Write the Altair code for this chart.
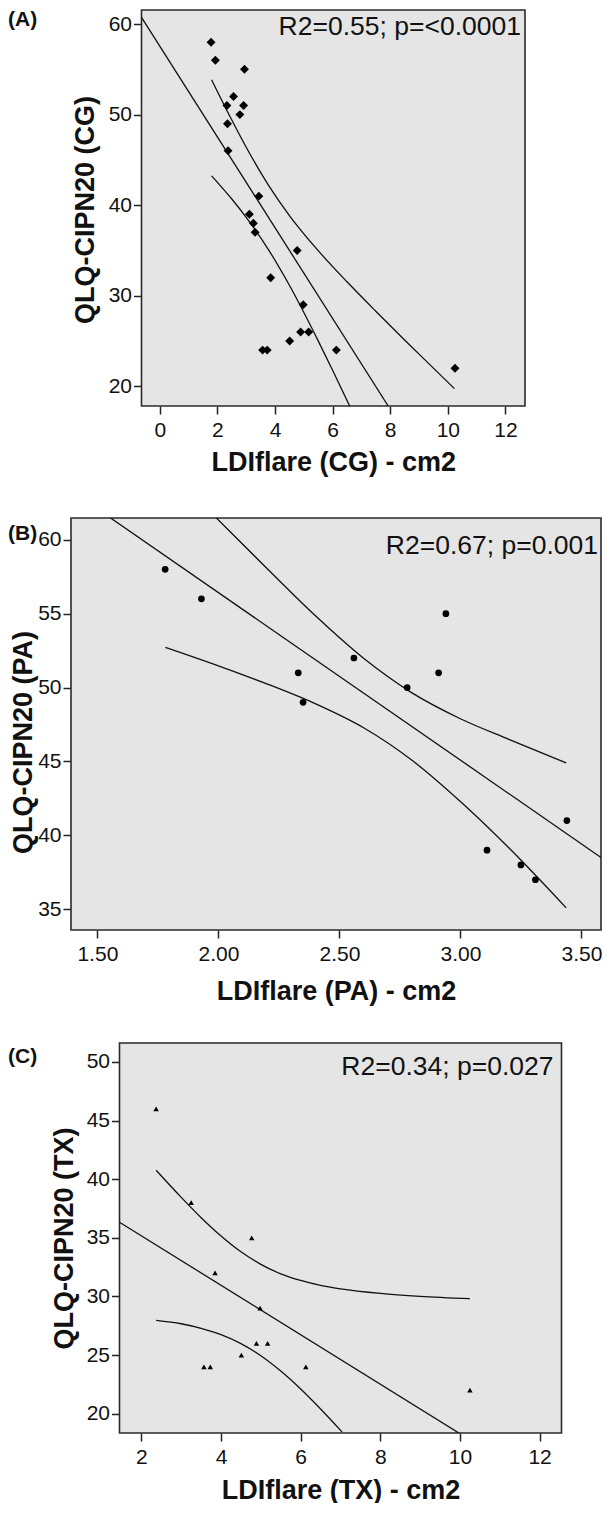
import altair as alt
import pandas as pd

FONT = "Liberation Sans"

# ---------------- data ----------------
# (A) CG: all patients
cg_x = [1.78, 1.93, 2.94, 2.56, 2.33, 2.91, 2.78, 2.35, 2.37, 3.44, 3.11, 3.25, 3.31,
        4.77, 3.85, 4.98, 4.89, 5.17, 4.51, 3.57, 3.73, 6.13, 10.25]
cg_y = [58, 56, 55, 52, 51, 51, 50, 49, 46, 41, 39, 38, 37,
        35, 32, 29, 26, 26, 25, 24, 24, 24, 22]
cg_fit_x = [-0.635, 7.93]
cg_fit_y = [60.74, 17.83]
cg_up_x = [1.80, 2.5, 3.0, 3.76, 4.5, 5.5, 6.5, 7.5, 8.5, 9.5, 10.23]
cg_up_y = [53.84, 49.40, 46.40, 42.28, 38.86, 34.98, 31.54, 28.29, 25.12, 22.01, 19.75]
cg_lo_x = [1.80, 2.5, 3.0, 3.76, 4.5, 5.5, 6.0, 6.6]
cg_lo_y = [43.24, 40.68, 38.66, 35.16, 31.16, 25.02, 21.77, 17.78]

# (B) PA
pa_x = [1.78, 1.93, 2.94, 2.56, 2.33, 2.91, 2.78, 2.35, 3.44, 3.11, 3.25, 3.31]
pa_y = [58, 56, 55, 52, 51, 51, 50, 49, 41, 39, 38, 37]
pa_fit_x = [1.50, 3.581]
pa_fit_y = [62.09, 38.51]
pa_up_x = [1.99, 2.2, 2.4, 2.6, 2.8, 3.0, 3.2, 3.437]
pa_up_y = [61.50, 58.07, 54.87, 51.98, 49.64, 47.89, 46.50, 44.90]
pa_lo_x = [1.781, 2.0, 2.2, 2.4, 2.6, 2.8, 3.0, 3.2, 3.437]
pa_lo_y = [52.72, 51.47, 50.25, 48.91, 47.28, 45.08, 42.29, 39.16, 35.10]

# (C) TX
tx_x = [2.37, 3.25, 4.77, 3.85, 4.98, 4.89, 5.17, 4.51, 3.57, 3.73, 6.13, 10.25]
tx_y = [46, 38, 35, 32, 29, 26, 26, 25, 24, 24, 24, 22]
tx_fit_x = [1.45, 10.1]
tx_fit_y = [36.33, 18.08]
tx_up_x = [2.37, 3.0, 3.5, 4.0, 4.5, 5.0, 5.5, 6.0, 6.5, 7.0, 8.0, 9.0, 10.25]
tx_up_y = [40.76, 38.45, 36.72, 35.16, 33.81, 32.74, 31.93, 31.36, 30.94, 30.65, 30.26, 30.01, 29.81]
tx_lo_x = [2.37, 3.0, 3.5, 4.0, 4.5, 5.0, 5.5, 6.0, 6.5, 7.04]
tx_lo_y = [27.96, 27.67, 27.28, 26.74, 25.97, 24.94, 23.63, 22.10, 20.40, 18.44]

# axis ticks
cg_xticks = [0, 2, 4, 6, 8, 10, 12]
cg_yticks = [20, 30, 40, 50, 60]
pa_xticks = [1.5, 2.0, 2.5, 3.0, 3.5]
pa_yticks = [35, 40, 45, 50, 55, 60]
tx_xticks = [2, 4, 6, 8, 10, 12]
tx_yticks = [20, 25, 30, 35, 40, 45, 50]


def curves_df(fx, fy, ux, uy, lx, ly):
    rows = []
    for name, xs, ys in (("fit", fx, fy), ("upper", ux, uy), ("lower", lx, ly)):
        for a, b in zip(xs, ys):
            rows.append({"x": a, "y": b, "c": name})
    return pd.DataFrame(rows)


def panel(px, py, shape, size, curves, xdom, ydom, xticks, yticks, xfmt,
          fl, fr, H, top_ext, bot_ext, label, label_y, r2, r2_xy,
          xtitle, ytitle, ytitle_xy, xtitle_dy):
    # plot origin is at page x = 8 for every panel; the frame spans fl..fr (page px)
    W = fr - 8
    xl, xr = fl - 8, fr - 8
    xs = alt.Scale(domain=xdom, range=[xl, xr], nice=False, zero=False)
    ys = alt.Scale(domain=ydom, nice=False, zero=False)
    xaxis = alt.Axis(values=xticks, format=xfmt, title=xtitle, grid=False, domain=False,
                     tickSize=8, tickWidth=1.5, tickColor="#222",
                     labelPadding=5, labelFontSize=21, labelFont=FONT, labelColor="#111",
                     labelFlush=False, labelOverlap=False,
                     titleFont=FONT, titleFontSize=27, titleFontWeight="bold", titleColor="#111",
                     titleX=(xl + xr) / 2, titleY=xtitle_dy, titleAlign="center",
                     titleBaseline="middle", titleAngle=0)
    yaxis = alt.Axis(values=yticks, title=ytitle, grid=False, domain=False, offset=-xl,
                     tickSize=8, tickWidth=1.5, tickColor="#222",
                     labelPadding=2, labelFontSize=21, labelFont=FONT, labelColor="#111",
                     labelFlush=False, labelOverlap=False,
                     titleFont=FONT, titleFontSize=27, titleFontWeight="bold", titleColor="#111",
                     titleX=ytitle_xy[0], titleY=ytitle_xy[1], titleAlign="center",
                     titleBaseline="middle", titleAngle=270)
    xe = alt.X("x:Q", scale=xs, axis=xaxis)
    ye = alt.Y("y:Q", scale=ys, axis=yaxis)

    frame = alt.Chart(pd.DataFrame({"a": [0]})).mark_rect(
        fill="#E5E5E5", stroke="#2a2a2a", strokeWidth=1.6
    ).encode(x=alt.value(xl), x2=alt.value(xr), y=alt.value(0), y2=alt.value(H))

    pts = alt.Chart(pd.DataFrame({"x": px, "y": py})).mark_point(
        shape=shape, filled=True, size=size, color="black", opacity=1, clip=True
    ).encode(x=xe, y=ye)

    lines = alt.Chart(curves).mark_line(
        color="#111", strokeWidth=1.3, clip=True, interpolate="monotone"
    ).encode(x=xe, y=ye, detail="c:N")

    lab = alt.Chart(pd.DataFrame({"t": [label]})).mark_text(
        font=FONT, fontSize=21, fontWeight="bold", color="#111",
        align="left", baseline="middle"
    ).encode(x=alt.value(0), y=alt.value(label_y), text="t:N")

    r2t = alt.Chart(pd.DataFrame({"t": [r2]})).mark_text(
        font=FONT, fontSize=26.5, color="#111", align="right", baseline="alphabetic"
    ).encode(x=alt.value(r2_xy[0] - 8), y=alt.value(r2_xy[1]), text="t:N")

    bounds = alt.Chart(pd.DataFrame({"a": [0]})).mark_rule(opacity=0, strokeWidth=1).encode(
        x=alt.value(W / 2), y=alt.value(-top_ext), y2=alt.value(H + bot_ext)
    )

    return alt.layer(frame, lines, pts, lab, r2t, bounds).properties(width=W, height=H)


pA = panel(cg_x, cg_y, "diamond", 80,
           curves_df(cg_fit_x, cg_fit_y, cg_up_x, cg_up_y, cg_lo_x, cg_lo_y),
           [-0.635, 12.68], [17.83, 61.55], cg_xticks, cg_yticks, "d",
           141.5, 525, 396, 0, 86, "(A)", 9.5, "R2=0.55; p=<0.0001", (521, 24.5),
           "LDIflare (CG) - cm2", "QLQ-CIPN20 (CG)", (-55.8, 199.6), 56)

pB = panel(pa_x, pa_y, "circle", 45,
           curves_df(pa_fit_x, pa_fit_y, pa_up_x, pa_up_y, pa_lo_x, pa_lo_y),
           [1.391, 3.581], [33.6, 61.47], pa_xticks, pa_yticks, ".2f",
           71, 601, 412, 26, 87, "(B)", 15.7, "R2=0.67; p=0.001", (598, 36),
           "LDIflare (PA) - cm2", "QLQ-CIPN20 (PA)", (-47.6, 224), 61)

pC = panel(tx_x, tx_y, "triangle-up", 30,
           curves_df(tx_fit_x, tx_fit_y, tx_up_x, tx_up_y, tx_lo_x, tx_lo_y),
           [1.45, 12.55], [18.35, 51.62], tx_xticks, tx_yticks, "d",
           119.5, 561.5, 390, 26, 69, "(C)", 14, "R2=0.34; p=0.027", (553.5, 31.7),
           "LDIflare (TX) - cm2", "QLQ-CIPN20 (TX)", (-55.2, 195), 57)

chart = alt.vconcat(pA, pB, pC, spacing=0).properties(
    padding={"left": 0, "top": 0, "right": 0, "bottom": 0}
).configure_view(
    fill="transparent", stroke="transparent", strokeWidth=0
)

chart.save("out.html", embed_options={"renderer": "svg", "actions": False})
